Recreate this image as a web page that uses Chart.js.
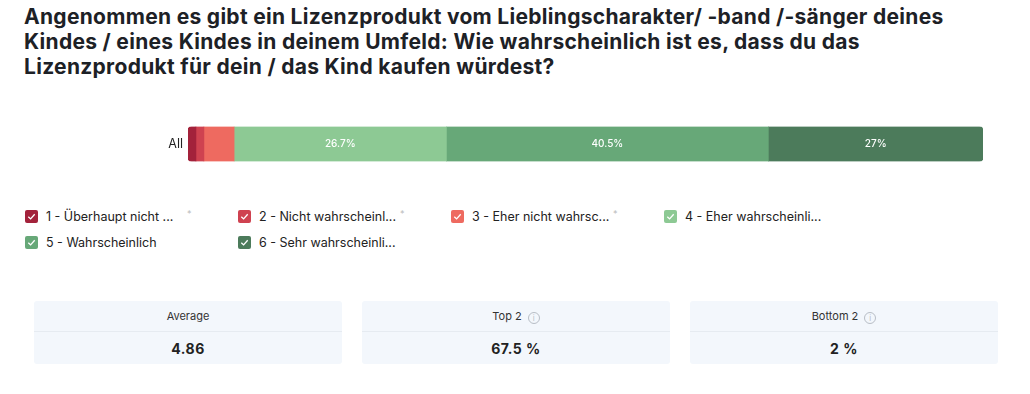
<!DOCTYPE html>
<html>
<head>
<meta charset="utf-8">
<script src="https://cdn.jsdelivr.net/npm/chart.js@4"></script>
<style>
  body { margin: 0; background: #fff; font-family: Inter, sans-serif; color: #1d2126; }
  .wrap { position: relative; width: 1030px; height: 394px; overflow: hidden; }
  h1 { position: absolute; left: 24px; top: 4px; margin: 0; font-size: 21px; letter-spacing: 0.3px; line-height: 25px; font-weight: 700; width: 1000px; white-space: nowrap; }
  .chartbox { position: absolute; left: 140px; top: 114px; width: 850px; height: 60px; }
  .legend { position: absolute; left: 25px; top: 209px; width: 1000px; }
  .item { position: absolute; font-size: 12.5px; color: #222; white-space: nowrap; height: 16px; line-height: 16px; }
  .box { display: inline-block; width: 13px; height: 13px; border-radius: 2px; vertical-align: -2px; margin-right: 8px; }
  .box svg { display: block; }
  .star { position: absolute; left: 162px; top: -3px; color: #bbb; font-size: 9px; }
  .stat { position: absolute; top: 301px; height: 63px; background: #f3f7fc; border-radius: 3px; }
  .stat .hd { height: 30px; line-height: 30px; text-align: center; font-size: 11px; color: #333; border-bottom: 1px solid #e6ebf1; }
  .stat .val { height: 32px; line-height: 34px; text-align: center; font-size: 14px; font-weight: 700; color: #222; letter-spacing: 0.5px; }
  .info { display: inline-block; width: 10px; height: 10px; border: 1px solid #b8bec6; border-radius: 50%; font-size: 8px; line-height: 10px; color: #b8bec6; text-align: center; vertical-align: -1px; margin-left: 6px; font-weight: 400; }
</style>
</head>
<body>
<div class="wrap">
  <h1>Angenommen es gibt ein Lizenzprodukt vom Lieblingscharakter/ -band /-sänger deines<br>Kindes / eines Kindes in deinem Umfeld: Wie wahrscheinlich ist es, dass du das<br>Lizenzprodukt für dein / das Kind kaufen würdest?</h1>
  <div class="chartbox"><canvas id="barChart"></canvas></div>
  <div class="legend" id="legend"></div>
  <div id="stats"></div>
</div>
<script>
const categories = ['All'];
const answerLabels = ['1 - Überhaupt nicht ...', '2 - Nicht wahrscheinl...', '3 - Eher nicht wahrsc...', '4 - Eher wahrscheinli...', '5 - Wahrscheinlich', '6 - Sehr wahrscheinli...'];
const shares = [1, 1, 3.8, 26.7, 40.5, 27];
const colors = ['#a3223b', '#cf4250', '#ee6a60', '#8dc994', '#67a878', '#4c7b5b'];
const starred = [true, true, true, false, false, false];
const statLabels = ['Average', 'Top 2', 'Bottom 2'];
const statValues = ['4.86', '67.5 %', '2 %'];
const statInfo = [false, true, true];

// labels inside the wider segments
const segLabels = {
  id: 'segLabels',
  afterDatasetsDraw(chart) {
    const ctx = chart.ctx;
    ctx.save();
    ctx.font = '500 10px Inter, sans-serif';
    ctx.fillStyle = '#ffffff';
    ctx.textAlign = 'center';
    ctx.textBaseline = 'middle';
    chart.data.datasets.forEach((ds, i) => {
      const bar = chart.getDatasetMeta(i).data[0];
      if (ds.data[0] < 10) return;
      ctx.fillText(ds.data[0] + '%', (bar.x + bar.base) / 2, bar.y);
    });
    ctx.restore();
  }
};

new Chart(document.getElementById('barChart'), {
  type: 'bar',
  data: {
    labels: categories,
    datasets: answerLabels.map((l, i) => ({
      label: l,
      data: [shares[i]],
      backgroundColor: colors[i],
      borderWidth: 0,
      borderRadius: 4,
      borderSkipped: 'middle',
      barThickness: 35
    }))
  },
  options: {
    indexAxis: 'y',
    responsive: true,
    maintainAspectRatio: false,
    animation: false,
    layout: { padding: { right: 7 } },
    plugins: { legend: { display: false }, tooltip: { enabled: false } },
    scales: {
      x: { stacked: true, min: 0, max: 100, display: false },
      y: {
        stacked: true,
        grid: { display: false, drawTicks: false },
        border: { display: false },
        ticks: { color: '#222', font: { size: 12.5, family: 'Inter, sans-serif' }, padding: 5 },
        afterFit: s => { s.width = 48; }
      }
    }
  },
  plugins: [segLabels]
});

// legend
const check = '<svg width="13" height="13" viewBox="0 0 13 13"><polyline points="3.3,6.7 5.6,8.9 9.7,4.2" fill="none" stroke="#fff" stroke-width="1.3"/></svg>';
const legend = document.getElementById('legend');
answerLabels.forEach((l, i) => {
  const el = document.createElement('div');
  el.className = 'item';
  el.style.left = (i % 4) * 213 + 'px';
  el.style.top = Math.floor(i / 4) * 26 + 'px';
  el.innerHTML = '<span class="box" style="background:' + colors[i] + '">' + check + '</span>' + l +
    (starred[i] ? '<span class="star">*</span>' : '');
  legend.appendChild(el);
});

// stat boxes
const stats = document.getElementById('stats');
statLabels.forEach((l, i) => {
  const el = document.createElement('div');
  el.className = 'stat';
  el.style.left = (34 + i * 328) + 'px';
  el.style.width = '308px';
  el.innerHTML = '<div class="hd">' + l + (statInfo[i] ? '<span class="info">i</span>' : '') + '</div><div class="val">' + statValues[i] + '</div>';
  stats.appendChild(el);
});
</script>
</body>
</html>
